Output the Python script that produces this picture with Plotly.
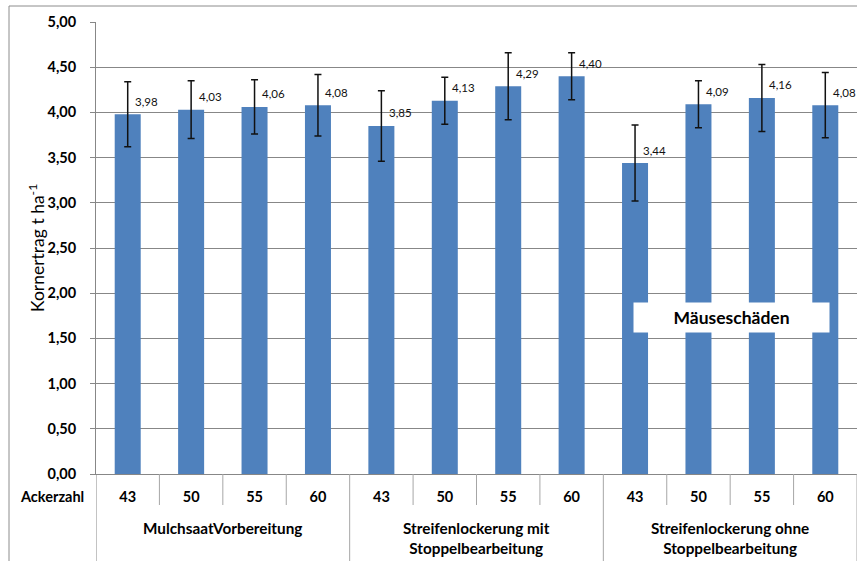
import plotly.graph_objects as go

ackerzahl = ["43", "50", "55", "60", "43", "50", "55", "60", "43", "50", "55", "60"]
groups = ["MulchsaatVorbereitung", "Streifenlockerung mit<br>Stoppelbearbeitung",
          "Streifenlockerung ohne<br>Stoppelbearbeitung"]
ertrag = [3.98, 4.03, 4.06, 4.08, 3.85, 4.13, 4.29, 4.40, 3.44, 4.09, 4.16, 4.08]
fehler = [0.36, 0.32, 0.30, 0.34, 0.39, 0.26, 0.37, 0.26, 0.42, 0.26, 0.37, 0.36]
y_ticks = [0, 0.5, 1.0, 1.5, 2.0, 2.5, 3.0, 3.5, 4.0, 4.5, 5.0]
note = "Mäuseschäden"

W, H = 857, 561
ML, MR, MT, MB = 96, 0, 22, 87
PH = H - MT - MB
PW = W - ML - MR
GRAY = "#878787"
FONT = "Lato"

xs = list(range(len(ertrag)))

fig = go.Figure()
fig.add_trace(go.Bar(
    x=xs, y=ertrag,
    marker=dict(color="#4F81BD", line=dict(width=0)),
    error_y=dict(type="data", array=fehler, visible=True, color="#111111",
                 thickness=1.5, width=3.5),
    width=0.41,
    hoverinfo="skip",
))

annotations = []
for x, v in zip(xs, ertrag):
    annotations.append(dict(
        x=x, y=v, xref="x", yref="y", text=f"{v:.2f}".replace(".", ","),
        showarrow=False, xshift=19, yshift=13,
        font=dict(family=FONT, size=11.5, color="#111111"),
    ))

# group labels
for gi, g in enumerate(groups):
    annotations.append(dict(
        x=gi * 4 + 1.5, y=-(43 / PH), xref="x", yref="paper", text=g,
        showarrow=False, yanchor="top", align="center",
        font=dict(family=FONT, size=15.3, color="#000000", weight="bold"),
    ))

annotations.append(dict(
    x=-10 / PW, y=-(22 / PH), xref="paper", yref="paper", text="Ackerzahl",
    showarrow=False, xanchor="right", yanchor="middle",
    font=dict(family=FONT, size=14.5, color="#000000", weight="bold"),
))

# y-axis title
annotations.append(dict(
    x=-(ML - 36) / PW, y=0.5, xref="paper", yref="paper",
    text="Kornertrag t ha<sup>-1</sup>", showarrow=False, textangle=-90,
    xanchor="center", yanchor="middle",
    font=dict(family=FONT, size=17.5, color="#000000"),
))

# Mäuseschäden box
annotations.append(dict(
    x=9.52, y=1.73, xref="x", yref="y", text=note, showarrow=False,
    bgcolor="white", width=193, height=27, borderpad=1,
    font=dict(family=FONT, size=17.5, color="#000000", weight="bold"),
))

shapes = []
for i in range(len(xs)):
    xb = i + 0.5
    if xb > len(xs) - 0.5:
        continue
    if (i + 1) % 4 == 0:
        y1 = -(MB + 5) / PH
    else:
        y1 = -31 / PH
    shapes.append(dict(type="line", xref="x", yref="paper", x0=xb, x1=xb,
                       y0=0, y1=y1, line=dict(color="#A6A6A6", width=1)))
# left axis extension
shapes.append(dict(type="line", xref="x", yref="paper", x0=-0.5, x1=-0.5,
                   y0=0, y1=-(MB + 5) / PH, line=dict(color=GRAY, width=1)))
# outer frame (left and top edges visible)
fx = (9 - ML) / PW
fy = (H - MB - 6) / PH
shapes.append(dict(type="line", xref="paper", yref="paper", x0=fx, x1=fx,
                   y0=-(MB + 5) / PH, y1=fy, line=dict(color="#8C8C8C", width=1)))
shapes.append(dict(type="line", xref="paper", yref="paper", x0=fx, x1=1.05,
                   y0=fy, y1=fy, line=dict(color="#8C8C8C", width=1)))

fig.update_layout(
    width=W, height=H,
    margin=dict(l=ML, r=MR, t=MT, b=MB, pad=0, autoexpand=False),
    paper_bgcolor="white", plot_bgcolor="white",
    separators=",.",
    showlegend=False,
    hovermode=False,
    annotations=annotations,
    shapes=shapes,
    font=dict(family=FONT, color="#000000"),
)
fig.update_xaxes(
    range=[-0.5, len(xs) - 0.5],
    tickvals=xs, ticktext=ackerzahl,
    tickfont=dict(family=FONT, size=14.5, color="#000000", weight="bold"),
    ticks="", ticklabelstandoff=10, automargin=False,
    showgrid=False, showline=True, linecolor=GRAY, linewidth=1,
    zeroline=False, fixedrange=True,
)
fig.update_yaxes(
    range=[0, 5], tickvals=y_ticks, tickformat=".2f",
    tickfont=dict(family=FONT, size=14.5, color="#000000", weight="bold"),
    ticks="outside", ticklen=5, tickcolor=GRAY, ticklabelstandoff=11,
    showgrid=True, gridcolor=GRAY, gridwidth=1, automargin=False,
    showline=True, linecolor=GRAY, linewidth=1,
    zeroline=False, fixedrange=True,
)

fig.write_html(
    "out.html",
    config={"displayModeBar": False},
    post_script="document.body.style.margin='0px';document.body.style.overflow='hidden';",
)
